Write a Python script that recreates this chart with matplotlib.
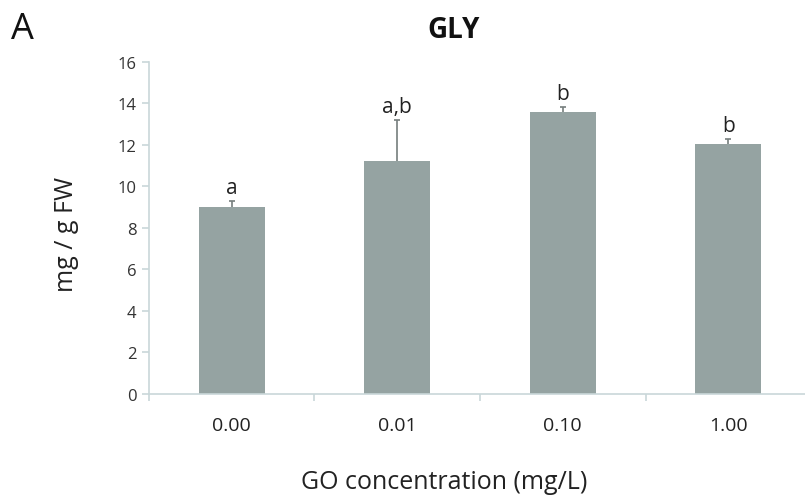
import matplotlib.pyplot as plt
import numpy as np

plt.rcParams['font.family'] = ['Open Sans', 'DejaVu Sans']

conc = ['0.00', '0.01', '0.10', '1.00']
gly = [9.0, 11.23, 13.58, 12.02]
gly_err = [0.28, 1.96, 0.22, 0.26]
letters = ['a', 'a,b', 'b', 'b']

bar_col = '#95a3a2'
axis_col = '#c9d7d9'

fig = plt.figure(figsize=(8.05, 5.02), dpi=100)
ax = fig.add_axes([0.185, 0.2131, 0.8225, 0.662])

x = np.arange(len(conc))
ax.bar(x, gly, width=0.4, color=bar_col, zorder=2)
# upper error bars only
eb = ax.errorbar(x, gly, yerr=[np.zeros(len(gly)), gly_err], fmt='none',
                 ecolor='#767e7d', elinewidth=1.2, capsize=2.5, capthick=1.2, zorder=3)
eb[1][0].set_visible(False)  # lower caps
for xi, v, e, l in zip(x, gly, gly_err, letters):
    ax.text(xi, v + e + 0.15, l, ha='center', va='bottom', fontsize=15, color='#222222')

ax.set_xlim(-0.5, 3.5)
ax.set_ylim(0, 16)
ax.set_yticks(np.arange(0, 17, 2))
ax.set_yticklabels([str(v) for v in range(0, 17, 2)], fontsize=12, color='#333333')
# category labels at centres, tick marks at boundaries
ax.set_xticks(x)
ax.set_xticklabels(conc, fontsize=14, color='#222222')
ax.tick_params(axis='x', length=0, pad=16)
ax.set_xticks(np.arange(-0.5, 4, 1), minor=True)
ax.tick_params(axis='x', which='minor', length=5, color=axis_col, width=1.2)
ax.tick_params(axis='y', length=5, color=axis_col, width=1.2, pad=4)

for s in ['top', 'right']:
    ax.spines[s].set_visible(False)
for s in ['left', 'bottom']:
    ax.spines[s].set_color(axis_col)
    ax.spines[s].set_linewidth(1.2)

fig.text(0.083, 0.533, 'mg / g FW', rotation=90, ha='center', va='center', fontsize=18, color='#222222')
fig.text(0.552, 0.038, 'GO concentration (mg/L)', ha='center', va='center', fontsize=18, color='#222222')
fig.text(0.014, 0.94, 'A', ha='left', va='center', fontsize=26, color='#111111')
fig.text(0.564, 0.94, 'GLY', ha='center', va='center', fontsize=20, fontweight='bold', color='#111111')

fig.savefig('out.png', dpi=100)
